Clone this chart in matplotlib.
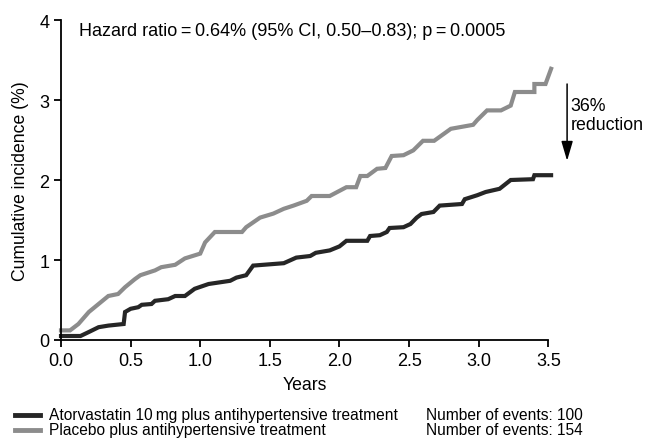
import matplotlib
matplotlib.use('Agg')
import matplotlib.pyplot as plt
from matplotlib.lines import Line2D

plt.rcParams['font.family'] = ['Liberation Sans', 'DejaVu Sans']

# Kaplan-Meier style curves (years, cumulative incidence %)
atorva_t = [0.0, 0.14, 0.20, 0.27, 0.34, 0.45, 0.46, 0.50, 0.555, 0.58, 0.65, 0.675,
            0.77, 0.82, 0.89, 0.96, 1.01, 1.06, 1.215, 1.26, 1.33, 1.38, 1.60, 1.69,
            1.79, 1.83, 1.93, 2.00, 2.05, 2.20, 2.22, 2.29, 2.34, 2.36, 2.46, 2.51,
            2.555, 2.59, 2.675, 2.72, 2.88, 2.90, 2.99, 3.05, 3.15, 3.23, 3.39, 3.40, 3.52]
atorva_v = [0.05, 0.05, 0.10, 0.16, 0.18, 0.20, 0.35, 0.39, 0.41, 0.44, 0.45, 0.49,
            0.51, 0.55, 0.55, 0.64, 0.67, 0.70, 0.74, 0.78, 0.81, 0.93, 0.96, 1.03,
            1.05, 1.09, 1.12, 1.17, 1.24, 1.24, 1.30, 1.31, 1.35, 1.40, 1.41, 1.45,
            1.53, 1.575, 1.60, 1.68, 1.70, 1.76, 1.81, 1.85, 1.89, 2.00, 2.01, 2.06, 2.06]

placebo_t = [0.0, 0.065, 0.125, 0.20, 0.27, 0.34, 0.41, 0.46, 0.53, 0.57, 0.675, 0.72,
             0.82, 0.89, 1.00, 1.035, 1.105, 1.30, 1.33, 1.38, 1.43, 1.525, 1.60, 1.67,
             1.765, 1.80, 1.93, 2.05, 2.12, 2.15, 2.20, 2.27, 2.33, 2.375, 2.46, 2.53,
             2.60, 2.68, 2.80, 2.96, 2.99, 3.06, 3.16, 3.23, 3.26, 3.40, 3.40, 3.48, 3.52]
placebo_v = [0.12, 0.12, 0.20, 0.35, 0.45, 0.55, 0.575, 0.66, 0.76, 0.81, 0.87, 0.91,
             0.94, 1.02, 1.08, 1.22, 1.35, 1.35, 1.41, 1.47, 1.53, 1.58, 1.64, 1.68,
             1.74, 1.80, 1.80, 1.91, 1.91, 2.05, 2.05, 2.14, 2.15, 2.30, 2.31, 2.37,
             2.49, 2.49, 2.64, 2.69, 2.75, 2.87, 2.87, 2.93, 3.10, 3.10, 3.20, 3.20, 3.39]

labels = ['Atorvastatin 10\u2009mg plus antihypertensive treatment',
          'Placebo plus antihypertensive treatment']
events = [100, 154]
colors = ['#262626', '#8c8c8c']

fig = plt.figure(figsize=(6.53, 4.39), dpi=100)
ax = fig.add_axes([61 / 653, 1 - 341 / 439, 487.3 / 653, 320 / 439])

ax.plot(placebo_t, placebo_v, color=colors[1], lw=3, clip_on=False, solid_joinstyle='miter')
ax.plot(atorva_t, atorva_v, color=colors[0], lw=3, clip_on=False, solid_joinstyle='miter')

ax.set_xlim(0, 3.5)
ax.set_ylim(0, 4)
ax.set_xticks([0, 0.5, 1.0, 1.5, 2.0, 2.5, 3.0, 3.5])
ax.set_xticklabels(['0.0', '0.5', '1.0', '1.5', '2.0', '2.5', '3.0', '3.5'])
ax.set_yticks([0, 1, 2, 3, 4])
for s in ['top', 'right']:
    ax.spines[s].set_visible(False)
for s in ['left', 'bottom']:
    ax.spines[s].set_linewidth(1.3)
ax.tick_params(labelsize=13, width=1.3, length=5, direction='out')
ax.set_xlabel('Years', fontsize=12.7, labelpad=5)
ax.set_ylabel('Cumulative incidence (%)', fontsize=12.7, labelpad=7)

ax.text(0.13, 3.875, 'Hazard ratio\u2009=\u20090.64% (95% CI, 0.50\u20130.83); p\u2009=\u20090.0005',
        fontsize=13, va='center', ha='left')

# reduction arrow
ax.annotate('', xy=(3.635, 2.24), xytext=(3.635, 3.2),
            arrowprops=dict(arrowstyle='-|>,head_length=0.85,head_width=0.25',
                            color='black', lw=1.1, mutation_scale=14, shrinkA=0, shrinkB=0),
            annotation_clip=False)
ax.text(3.66, 2.81, '36%\nreduction', fontsize=12.8, va='center', ha='left',
        linespacing=1.15, clip_on=False)

# legend drawn by hand below the axes
for i in range(2):
    yy = 1 - (415.5 + i * 15) / 439
    fig.add_artist(Line2D([15 / 653, 40 / 653], [yy, yy], color=colors[i], lw=3.5))
    fig.text(49 / 653, yy, labels[i], fontsize=11.2, va='center', ha='left')
    fig.text(426 / 653, yy, 'Number of events: %d' % events[i], fontsize=11.2,
             va='center', ha='left')

fig.savefig('out.png', dpi=100)
